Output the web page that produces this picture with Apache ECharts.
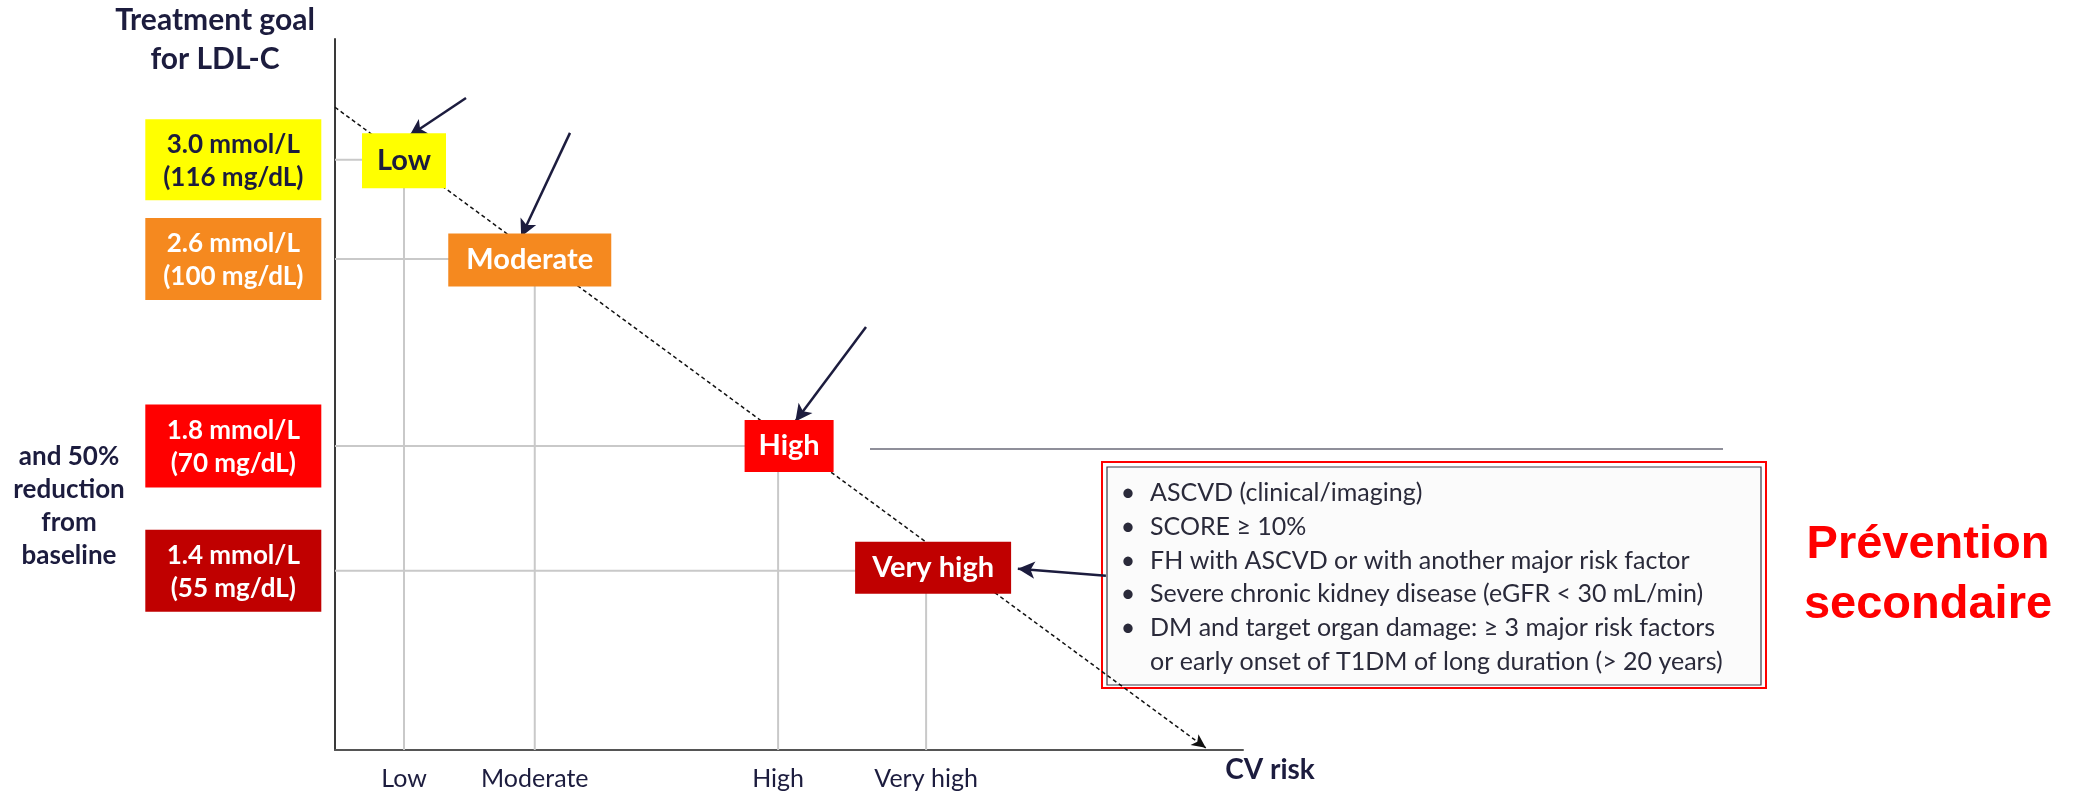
<!DOCTYPE html>
<html>
<head>
<meta charset="utf-8">
<script src="https://cdn.jsdelivr.net/npm/echarts@6/dist/echarts.min.js"></script>
<style>
  html, body { margin: 0; padding: 0; background: #ffffff; }
  #chart { width: 2083px; height: 793px; }
</style>
</head>
<body>
<div id="chart"></div>
<script>
// CV risk levels and their place along the (schematic) risk axis
const riskLevels = ['Low', 'Moderate', 'High', 'Very high'];
const riskPos = [7.6, 22.0, 48.8, 65.1];

// LDL-C treatment goal for each risk level, schematic height on the goal axis
const goalPos = [83.0, 69.05, 42.75, 25.2];
const goalMmol = ['3.0 mmol/L', '2.6 mmol/L', '1.8 mmol/L', '1.4 mmol/L'];
const goalMgdl = ['(116 mg/dL)', '(100 mg/dL)', '(70 mg/dL)', '(55 mg/dL)'];

// Dashed trend: lower goal as risk rises
const trendLine = [[0, 90.4], [95.9, 0.3]];

// Criteria for the very high risk group
const veryHighCriteria = [
  'ASCVD (clinical/imaging)',
  'SCORE \u2265 10%',
  'FH with ASCVD or with another major risk factor',
  'Severe chronic kidney disease (eGFR < 30 mL/min)',
  'DM and target organ damage: \u2265 3 major risk factors',
  'or early onset of T1DM of long duration (> 20 years)'
];

// ---- styling / layout ----
const FONT = 'Lato';
const INK = '#1c1c3e';
const levelColors = ['#ffff00', '#f5891f', '#ff0000', '#c00000'];
const levelText = [INK, '#ffffff', '#ffffff', '#ffffff'];
const riskBoxSize = [[84, 55], [163, 53], [89, 52], [156, 52]];
const riskBoxOffset = [[0, 1], [-5, 1], [11, 0], [7, -3]];
const goalBoxX = -11.2;
const goalBoxSize = [[176, 81], [176, 82], [176, 83], [176, 82]];
// pointer arrows (start -> tip) in axis units
const pointerArrows = [
  [[14.43, 91.7], [8.2, 86.4]],
  [[25.88, 86.8], [20.5, 72.2]],
  [[58.48, 59.5], [50.7, 46.2]],
  [[84.9, 24.5], [75.2, 25.5]]
];

const chart = echarts.init(document.getElementById('chart'), null, { renderer: 'canvas' });

const series = [];

// drop lines from each goal to its risk level
riskLevels.forEach((name, i) => {
  series.push({
    type: 'line',
    silent: true,
    symbol: 'none',
    z: 1,
    animation: false,
    lineStyle: { color: '#c9c9c9', width: 2 },
    data: [[0, goalPos[i]], [riskPos[i], goalPos[i]], [riskPos[i], 0]]
  });
});

// dashed trend line with arrow
series.push({
  type: 'line',
  silent: true,
  symbol: 'none',
  z: 2,
  animation: false,
  clip: false,
  lineStyle: { opacity: 0 },
  data: trendLine,
  markLine: {
    silent: true,
    animation: false,
    symbol: ['none', 'arrow'],
    symbolSize: [10, 14],
    label: { show: false },
    lineStyle: { color: '#111111', width: 1.5, type: [4, 3] },
    data: [[{ coord: trendLine[0] }, { coord: trendLine[1] }]]
  }
});

// goal boxes beside the vertical axis
series.push({
  type: 'scatter',
  silent: true,
  clip: false,
  z: 4,
  animation: false,
  symbol: 'rect',
  data: goalPos.map((g, i) => ({
    value: [goalBoxX, g],
    symbolSize: goalBoxSize[i],
    itemStyle: { color: levelColors[i], opacity: 1 },
    label: {
      show: true,
      position: 'inside',
      offset: [0, 1],
      formatter: goalMmol[i] + '\n' + goalMgdl[i],
      color: levelText[i],
      fontFamily: FONT,
      fontWeight: 'bold',
      fontSize: 26,
      lineHeight: 33
    }
  }))
});

// risk level boxes on the trend
series.push({
  type: 'scatter',
  silent: true,
  clip: false,
  z: 5,
  animation: false,
  symbol: 'rect',
  data: riskLevels.map((name, i) => ({
    value: [riskPos[i], goalPos[i]],
    symbolSize: riskBoxSize[i],
    symbolOffset: riskBoxOffset[i],
    itemStyle: { color: levelColors[i], opacity: 1 },
    label: {
      show: true,
      position: 'inside',
      formatter: name,
      color: levelText[i],
      fontFamily: FONT,
      fontWeight: 'bold',
      fontSize: 29
    }
  }))
});

// pointer arrows
series.push({
  type: 'line',
  silent: true,
  symbol: 'none',
  z: 6,
  animation: false,
  clip: false,
  lineStyle: { opacity: 0 },
  data: pointerArrows.map(a => a[0]),
  markLine: {
    silent: true,
    animation: false,
    symbol: ['none', 'arrow'],
    symbolSize: [13, 17],
    label: { show: false },
    lineStyle: { color: INK, width: 2.5, type: 'solid' },
    data: pointerArrows.map(a => [{ coord: a[0] }, { coord: a[1] }])
  }
});

// criteria box contents
const boxLeft = 1102, boxTop = 462, boxW = 664, boxH = 226;
const lineGap = 33.8;
const firstLineY = 493;
const criteriaTexts = veryHighCriteria.map((t, i) => ({
  type: 'text',
  x: 1150,
  y: firstLineY + i * lineGap,
  silent: true,
  style: {
    text: t,
    font: '25px ' + FONT,
    fill: '#2a2a3a',
    align: 'left',
    verticalAlign: 'middle'
  }
}));
const bullets = veryHighCriteria.slice(0, 5).map((t, i) => ({
  type: 'text',
  x: 1128,
  y: firstLineY + i * lineGap,
  silent: true,
  style: {
    text: '\u2022',
    font: '25px ' + FONT,
    fill: '#2a2a3a',
    align: 'center',
    verticalAlign: 'middle'
  }
}));

const option = {
  backgroundColor: '#ffffff',
  animation: false,
  grid: { left: 335, right: 840, top: 39, bottom: 43, containLabel: false },
  xAxis: {
    type: 'value',
    min: 0,
    max: 100,
    name: 'CV risk',
    nameLocation: 'end',
    nameGap: 27,
    nameTextStyle: {
      fontFamily: FONT, fontWeight: 'bold', fontSize: 28, color: INK,
      align: 'center', verticalAlign: 'top', padding: [6, 0, 0, 0]
    },
    axisLine: { show: true, lineStyle: { color: '#555555', width: 2 } },
    axisTick: { show: false },
    splitLine: { show: false },
    axisLabel: {
      customValues: riskPos,
      formatter: v => riskLevels[riskPos.indexOf(v)] || '',
      margin: 16,
      fontFamily: FONT,
      fontSize: 25,
      color: INK
    }
  },
  yAxis: {
    type: 'value',
    min: 0,
    max: 100,
    axisLine: { show: true, lineStyle: { color: '#3a3a3a', width: 2 } },
    axisTick: { show: false },
    splitLine: { show: false },
    axisLabel: { show: false }
  },
  graphic: [
    {
      type: 'text', x: 215, y: 40, silent: true,
      style: {
        text: 'Treatment goal\nfor LDL-C',
        font: 'bold 30px ' + FONT, fill: INK,
        align: 'center', verticalAlign: 'middle', lineHeight: 39
      }
    },
    {
      type: 'text', x: 69, y: 506, silent: true,
      style: {
        text: 'and 50%\nreduction\nfrom\nbaseline',
        font: 'bold 26px ' + FONT, fill: INK,
        align: 'center', verticalAlign: 'middle', lineHeight: 33
      }
    },
    {
      type: 'line', silent: true,
      shape: { x1: 870, y1: 449, x2: 1723, y2: 449 },
      style: { stroke: '#6a6a78', lineWidth: 1.5 }
    },
    {
      type: 'rect', silent: true,
      shape: { x: boxLeft, y: boxTop, width: boxW, height: boxH },
      style: { fill: '#ffffff', stroke: '#ff0000', lineWidth: 2 }
    },
    {
      type: 'rect', silent: true,
      shape: { x: boxLeft + 5, y: boxTop + 5, width: boxW - 10, height: boxH - 8 },
      style: { fill: '#fbfbfb', stroke: '#3a3a48', lineWidth: 1.2 }
    },
    ...bullets,
    ...criteriaTexts,
    {
      type: 'text', x: 1928, y: 575, silent: true,
      style: {
        text: 'Pr\u00e9vention\nsecondaire',
        font: 'bold 47px "Liberation Sans"', fill: '#ff0000',
        align: 'center', verticalAlign: 'middle', lineHeight: 60
      }
    }
  ],
  series: series
};

chart.setOption(option);
</script>
</body>
</html>
